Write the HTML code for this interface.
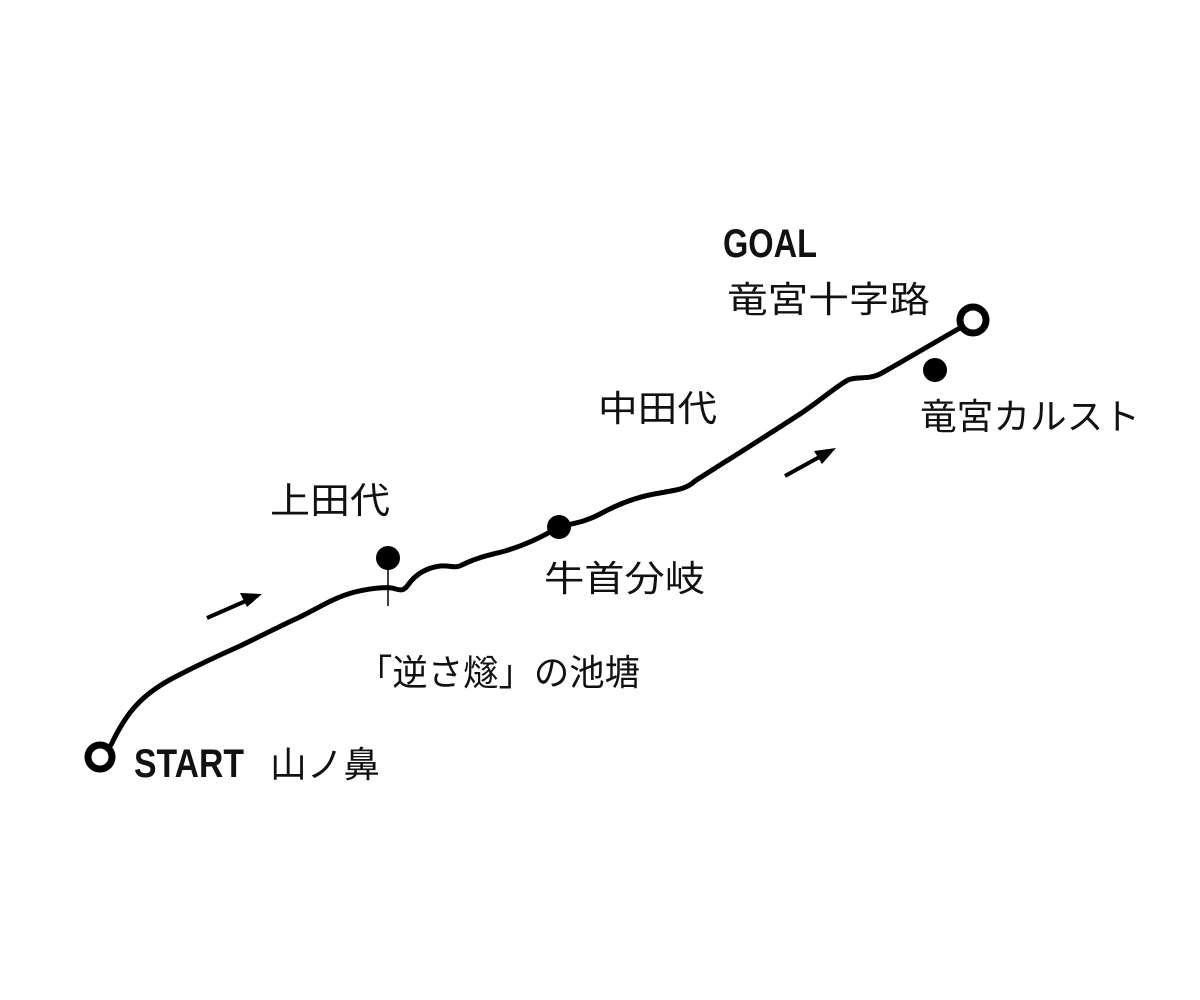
<!DOCTYPE html>
<html><head><meta charset="utf-8"><style>
html,body{margin:0;padding:0;background:#fff;width:1200px;height:1000px;overflow:hidden}
text{font-family:"Liberation Sans","Noto Sans CJK JP",sans-serif;fill:#111}
.b{font-family:"Liberation Sans Narrow","Liberation Sans",sans-serif;font-weight:bold}
</style></head><body>
<svg width="1200" height="1000" viewBox="0 0 1200 1000" xmlns="http://www.w3.org/2000/svg">
<path d="M111,745 C125,715 140,695 175,677 C200,664 215,657 240,646 C265,634 280,626 300,617 C320,607 335,597 355,592 C372,588 383,587 392,588 C400,590 403,592 408,585 C415,575 425,568 440,566 C450,565 455,569 462,565 C475,558 490,555 505,551 C525,545 540,538 559,527 C575,523 585,522 600,514 C620,503 640,496 660,493 C675,490 685,490 695,481 C720,465 760,440 800,414 C820,401 835,387 848,380 C856,376 868,380 880,374 C900,363 930,345 960,328" fill="none" stroke="#000" stroke-width="5" stroke-linecap="round" stroke-linejoin="round"/>
<circle cx="100" cy="757" r="12" fill="#fff" stroke="#000" stroke-width="7"/>
<circle cx="973" cy="320" r="13" fill="#fff" stroke="#000" stroke-width="7"/>
<circle cx="559" cy="527" r="12" fill="#000"/>
<circle cx="388" cy="558" r="12" fill="#000"/>
<line x1="388" y1="560" x2="388" y2="606" stroke="#000" stroke-width="1.5"/>
<circle cx="935" cy="370" r="12" fill="#000"/>
<line x1="207" y1="618" x2="248" y2="600" stroke="#000" stroke-width="4"/>
<polygon points="262,594 240,593 247,607" fill="#000"/>
<line x1="785" y1="476" x2="823" y2="455" stroke="#000" stroke-width="4"/>
<polygon points="836,448 814,451 822,464" fill="#000"/>
<text class="b" x="723" y="257" font-size="40" textLength="94" lengthAdjust="spacingAndGlyphs">GOAL</text>
<text x="727" y="312" font-size="36" textLength="203" lengthAdjust="spacingAndGlyphs">竜宮十字路</text>
<text x="598" y="421" font-size="36" textLength="119" lengthAdjust="spacingAndGlyphs">中田代</text>
<text x="920" y="429" font-size="36" textLength="220" lengthAdjust="spacingAndGlyphs">竜宮カルスト</text>
<text x="270" y="513" font-size="36" textLength="120" lengthAdjust="spacingAndGlyphs">上田代</text>
<text x="544" y="591" font-size="36" textLength="161" lengthAdjust="spacingAndGlyphs">牛首分岐</text>
<text x="357" y="685" font-size="36" textLength="283" lengthAdjust="spacingAndGlyphs">「逆さ燧」の池塘</text>
<text class="b" x="134" y="777" font-size="40" textLength="110" lengthAdjust="spacingAndGlyphs">START</text>
<text x="270" y="777" font-size="36" textLength="110" lengthAdjust="spacingAndGlyphs">山ノ鼻</text>
</svg>
</body></html>
